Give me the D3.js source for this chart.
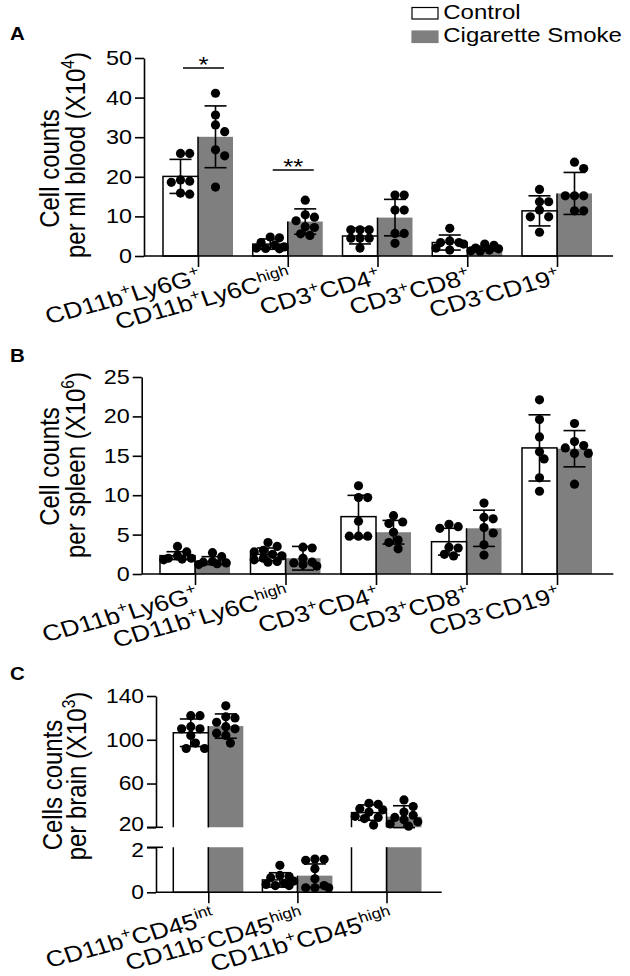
<!DOCTYPE html>
<html><head><meta charset="utf-8">
<script src="https://cdn.jsdelivr.net/npm/d3@7"></script>
<style>
body{margin:0;background:#fff}
svg{display:block}
text{font-family:"Liberation Sans",Arial,Helvetica,sans-serif;fill:#000}
</style>
</head><body>
<svg id="chart" width="630" height="976"></svg>
<script>
// ================= DATA =================
const seriesNames = ["Control", "Cigarette Smoke"];

// Panel A – blood
const catsA = ["CD11b^{+}Ly6G^{+}", "CD11b^{+}Ly6C^{high}", "CD3^{+}CD4^{+}", "CD3^{+}CD8^{+}", "CD3^{-}CD19^{+}"];
const ticksA = [0, 10, 20, 30, 40, 50];
const ctrlMeanA = [20.1, 3.0, 5.05, 3.4, 11.4];
const ctrlSdA = [4.3, 1.3, 2.0, 1.9, 3.8];
const csMeanA = [30.1, 8.7, 9.7, 1.9, 15.8];
const csSdA = [7.8, 3.2, 4.6, 0.6, 5.3];
const ctrlPtsA = [
  [25.9, 25.9, 19.2, 18.9, 18.6, 15.6, 15.9],
  [4.8, 4.6, 3.4, 2.8, 2.3, 2.0, 1.9, 1.8],
  [6.6, 6.6, 6.6, 4.5, 4.5, 4.5, 2.0],
  [7.0, 3.8, 3.4, 3.4, 3.0, 2.0, 1.5],
  [16.8, 13.7, 13.7, 11.6, 9.9, 9.9, 6.0]
];
const csPtsA = [
  [41.1, 35.6, 33.1, 31.4, 26.8, 25.3, 17.4],
  [14.1, 10.4, 9.8, 8.9, 7.4, 7.2, 5.6, 5.2],
  [15.4, 15.4, 11.6, 11.6, 5.7, 5.7, 3.2],
  [3.0, 2.7, 2.0, 1.8, 1.5, 1.3, 1.2],
  [23.7, 22.1, 15.2, 15.2, 15.2, 11.4, 11.4]
];
const sigA = [{cat: 0, label: "*", y: 47.5}, {cat: 1, label: "**", y: 21.7}];

// Panel B – spleen
const catsB = ["CD11b^{+}Ly6G^{+}", "CD11b^{+}Ly6C^{high}", "CD3^{+}CD4^{+}", "CD3^{+}CD8^{+}", "CD3^{-}CD19^{+}"];
const ticksB = [0, 5, 10, 15, 20, 25];
const ctrlMeanB = [2.33, 2.5, 7.28, 4.1, 16.0];
const ctrlSdB = [0.5, 0.8, 2.7, 1.7, 4.2];
const csMeanB = [1.7, 2.0, 5.3, 5.8, 15.9];
const csSdB = [0.5, 1.5, 1.5, 2.3, 2.3];
const ctrlPtsB = [
  [3.5, 2.8, 2.3, 2.0, 2.0, 1.8, 1.9],
  [4.0, 3.5, 3.0, 2.8, 2.5, 2.3, 2.0, 1.8, 1.5, 1.6],
  [11.2, 9.7, 9.7, 6.7, 4.8, 4.8, 4.8],
  [6.3, 6.0, 5.8, 3.4, 3.3, 2.3, 2.5],
  [22.1, 19.6, 17.4, 15.5, 14.6, 12.2, 10.5]
];
const csPtsB = [
  [2.7, 2.2, 1.6, 1.4, 1.3, 1.2, 1.5],
  [3.4, 3.3, 2.0, 1.5, 1.0, 1.4, 1.2],
  [7.4, 6.6, 6.4, 5.3, 4.3, 4.0, 3.2],
  [9.0, 7.2, 7.0, 5.9, 5.2, 3.7, 2.4],
  [19.1, 16.8, 16.3, 16.0, 15.3, 15.3, 11.4]
];

// Panel C – brain (broken axis)
const catsC = ["CD11b^{+}CD45^{int}", "CD11b^{-}CD45^{high}", "CD11b^{+}CD45^{high}"];
const ticksCUpper = [20, 60, 100, 140];
const ticksCLower = [0, 2];
const ctrlMeanC = [106.4, 0.55, 33.4];
const ctrlSdC = [12.6, 0.32, 7.0];
const csMeanC = [112.5, 0.74, 29.7];
const csSdC = [11.1, 0.52, 10.0];
const ctrlPtsC = [
  [122, 122, 112, 110, 110, 104, 97, 92, 92],
  [1.2, 0.75, 0.7, 0.65, 0.5, 0.4, 0.35, 0.3, 0.3],
  [42, 41, 37, 36, 34, 30, 29, 28, 22]
];
const csPtsC = [
  [131, 121, 120, 116, 112, 110, 106, 104, 97],
  [1.48, 1.47, 1.42, 1.05, 0.6, 0.3, 0.2, 0.2, 0.2],
  [45, 39, 34, 31, 29, 27, 25, 23, 21]
];

// ================= DRAWING =================
const SX = 1.17;           // horizontal stretch of the original figure's text
const GREY = "#7f7f7f";
const svg = d3.select("#chart");

function rich(textSel, str, fs) {
  const parts = [];
  const re = /\^\{([^}]*)\}/g;
  let last = 0, m;
  while ((m = re.exec(str))) {
    if (m.index > last) parts.push({t: str.slice(last, m.index), sup: false});
    parts.push({t: m[1], sup: true});
    last = re.lastIndex;
  }
  if (last < str.length) parts.push({t: str.slice(last), sup: false});
  const shift = fs * 0.4;
  let raised = false;
  parts.forEach(p => {
    const ts = textSel.append("tspan").text(p.t);
    if (p.sup) {
      ts.attr("font-size", fs * 0.65);
      if (!raised) { ts.attr("dy", -shift); raised = true; }
    } else if (raised) { ts.attr("dy", shift); raised = false; }
  });
}

// compact beeswarm limited to the bar width (overlap allowed when crowded)
function swarm(values, yFn, cx, r) {
  const pts = values.map(v => ({v, y: yFn(v)})).sort((a, b) => a.y - b.y);
  const placed = [];
  const cands = [0, r, -r, 2 * r, -2 * r, 3 * r, -3 * r];
  pts.forEach(p => {
    let best = null, bestD = -1;
    for (const dx of cands) {
      const d = placed.length ? d3.min(placed, q => Math.hypot(q.x - (cx + dx), q.y - p.y)) : 1e9;
      if (d >= 2 * r * 0.9) { best = dx; break; }
      if (d > bestD) { bestD = d; best = dx; }
    }
    p.x = cx + best;
    placed.push(p);
  });
  return placed;
}

let clipId = 0;
function drawPanel(cfg) {
  const g = svg.append("g");
  const n = cfg.cats.length;
  const xs = d3.scalePoint().domain(d3.range(n)).range(cfg.centers);
  const bw = 35, r = 4.6, capW = 11;

  const segs = cfg.segments.map(s => ({...s, scale: d3.scaleLinear().domain(s.domain).range(s.range)}));
  const yOf = v => {
    for (const s of segs) if (v >= s.domain[0] - (s.domain[0] > 0 ? 3 : 1e9)) return s.scale(v);
    return segs[segs.length - 1].scale(v);
  };

  // bars per segment
  segs.forEach(s => {
    const id = "clip" + (clipId++);
    g.append("clipPath").attr("id", id).append("rect")
      .attr("x", 0).attr("y", s.clipTop).attr("width", 630).attr("height", s.clipBottom - s.clipTop);
    const sg = g.append("g").attr("clip-path", `url(#${id})`);
    const [d0, d1] = s.domain;
    const bottom = d0 === 0 ? s.scale(0) : s.clipBottom + 6;
    for (let i = 0; i < n; i++) {
      const cx = xs(i);
      [[cfg.csMean[i], 1], [cfg.ctrlMean[i], 0]].forEach(([v, k]) => {
        if (v <= d0) return;
        const top = v > d1 ? s.clipTop - 6 : s.scale(v);
        if (k === 1) {
          sg.append("rect").attr("x", cx).attr("y", top).attr("width", bw).attr("height", bottom - top)
            .attr("fill", GREY);
          sg.append("line").attr("x1", cx).attr("x2", cx).attr("y1", top).attr("y2", bottom)
            .attr("stroke", "#000").attr("stroke-width", 1.5);
        } else {
          sg.append("rect").attr("x", cx - bw).attr("y", top).attr("width", bw).attr("height", bottom - top)
            .attr("fill", "#fff").attr("stroke", "#000").attr("stroke-width", 1.5);
        }
      });
    }
  });

  // error bars
  for (let i = 0; i < n; i++) {
    const cx = xs(i);
    [[cfg.ctrlMean[i], cfg.ctrlSd[i], cx - bw / 2], [cfg.csMean[i], cfg.csSd[i], cx + bw / 2]].forEach(([m, sd, bx]) => {
      const y1 = yOf(m + sd), y0 = yOf(Math.max(m - sd, 0));
      g.append("line").attr("x1", bx).attr("x2", bx).attr("y1", y1).attr("y2", y0).attr("stroke", "#000").attr("stroke-width", 1.6);
      [y1, y0].forEach(yy => g.append("line").attr("x1", bx - capW).attr("x2", bx + capW).attr("y1", yy).attr("y2", yy)
        .attr("stroke", "#000").attr("stroke-width", 1.6));
    });
  }

  // dots
  for (let i = 0; i < n; i++) {
    const cx = xs(i);
    [[cfg.ctrlPts[i], cx - bw / 2], [cfg.csPts[i], cx + bw / 2]].forEach(([vals, bx]) => {
      const placed = swarm(vals, yOf, bx, r);
      g.selectAll(null).data(placed).enter().append("circle")
        .attr("cx", d => d.x).attr("cy", d => d.y).attr("r", r).attr("fill", "#000");
    });
  }

  // y axes (one per segment)
  segs.forEach(s => {
    const ax = g.append("g").attr("transform", `translate(${cfg.axisX},0)`)
      .call(d3.axisLeft(s.scale).tickValues(s.ticks).tickFormat(d => String(d))
        .tickSize(9).tickSizeOuter(0).tickPadding(3));
    ax.select(".domain").attr("stroke", "#000").attr("stroke-width", 1.6);
    ax.selectAll(".tick line").attr("stroke", "#000").attr("stroke-width", 1.6);
    ax.selectAll(".tick text").attr("font-size", cfg.tickFs || 20).attr("fill", "#000")
      .attr("font-family", '"Liberation Sans",Arial,sans-serif')
      .attr("x", -12 / SX).attr("y", d => (s.labelShift && s.labelShift[d]) || 0)
      .attr("transform", `scale(${SX},1)`);
    if (s.breakAt !== undefined) {
      g.append("line").attr("x1", cfg.axisX - 9).attr("x2", cfg.axisX + 7)
        .attr("y1", s.scale(s.breakAt)).attr("y2", s.scale(s.breakAt)).attr("stroke", "#000").attr("stroke-width", 1.6);
    }
  });

  // x axis
  g.append("line").attr("x1", cfg.axisX).attr("x2", cfg.axisEnd).attr("y1", cfg.base).attr("y2", cfg.base)
    .attr("stroke", "#000").attr("stroke-width", 1.6);
  const xa = g.append("g").attr("transform", `translate(0,${cfg.base})`)
    .call(d3.axisBottom(xs).tickSize(11).tickFormat(""));
  xa.select(".domain").remove();
  xa.selectAll(".tick line").attr("stroke", "#000").attr("stroke-width", 1.6);

  // category labels
  cfg.cats.forEach((c, i) => {
    const t = g.append("text").attr("text-anchor", "end").attr("font-size", cfg.labelFs)
      .attr("transform", `translate(${xs(i) + cfg.labelOff[0]},${cfg.base + cfg.labelOff[1]}) scale(${SX},1) rotate(-17.4)`);
    rich(t, c, cfg.labelFs);
  });

  // y titles
  cfg.titles.forEach(tt => {
    const t = g.append("text").attr("text-anchor", "middle").attr("font-size", 24)
      .attr("transform", `translate(${tt.x},${tt.y}) scale(${SX},1) rotate(-90)`);
    rich(t, tt.text, 24);
  });

  // panel letter
  g.append("text").attr("font-size", 17.5).attr("font-weight", "bold")
    .attr("transform", `translate(10,${cfg.letterY}) scale(${SX},1)`).text(cfg.letter);

  // significance
  (cfg.sig || []).forEach(sg => {
    const cx = xs(sg.cat), yy = yOf(sg.y);
    g.append("line").attr("x1", cx - 15).attr("x2", cx + 26).attr("y1", yy).attr("y2", yy)
      .attr("stroke", "#000").attr("stroke-width", 1.5);
    g.append("text").attr("text-anchor", "middle").attr("font-size", 22)
      .attr("transform", `translate(${cx + 5.5},${yy + 4}) scale(${SX},1)`).text(sg.label);
  });
}

drawPanel({
  cats: catsA, ctrlMean: ctrlMeanA, ctrlSd: ctrlSdA, csMean: csMeanA, csSd: csSdA,
  ctrlPts: ctrlPtsA, csPts: csPtsA, sig: sigA,
  segments: [{domain: [0, 50], range: [256, 58], ticks: ticksA, clipTop: 0, clipBottom: 258}],
  axisX: 144, axisEnd: 613, base: 256, centers: [198, 557],
  labelOff: [5, 27], labelFs: 22.5,
  titles: [{text: "Cell counts", x: 59, y: 168.5}, {text: "per ml blood (X10^{4})", x: 85, y: 155}],
  letter: "A", letterY: 39.5
});

drawPanel({
  cats: catsB, ctrlMean: ctrlMeanB, ctrlSd: ctrlSdB, csMean: csMeanB, csSd: csSdB,
  ctrlPts: ctrlPtsB, csPts: csPtsB,
  segments: [{domain: [0, 25], range: [574, 377], ticks: ticksB, clipTop: 300, clipBottom: 576}],
  axisX: 141.7, axisEnd: 613.3, base: 574, centers: [195, 557],
  labelOff: [5, 27], labelFs: 22.5,
  titles: [{text: "Cell counts", x: 59, y: 466.5}, {text: "per spleen (X10^{6})", x: 85, y: 465}],
  letter: "B", letterY: 362
});

drawPanel({
  cats: catsC, ctrlMean: ctrlMeanC, ctrlSd: ctrlSdC, csMean: csMeanC, csSd: csSdC,
  ctrlPts: ctrlPtsC, csPts: csPtsC,
  segments: [
    {domain: [20, 140], range: [827.3, 696], ticks: ticksCUpper, clipTop: 620, clipBottom: 827.3, breakAt: 20,
     labelShift: {20: -3}},
    {domain: [0, 2], range: [892.3, 847.3], ticks: ticksCLower, clipTop: 847.3, clipBottom: 894, breakAt: 2,
     labelShift: {2: 3}}
  ],
  axisX: 156, axisEnd: 441.7, base: 892.3, centers: [208.3, 386.5],
  labelOff: [8, 31], labelFs: 22.5, tickFs: 19.5,
  titles: [{text: "Cells counts", x: 61.7, y: 785}, {text: "per brain (X10^{3})", x: 86, y: 776}],
  letter: "C", letterY: 680
});

// legend
const leg = svg.append("g");
const legItems = seriesNames.map((s, i) => ({name: s, fill: i === 0 ? "#fff" : GREY, stroke: i === 0 ? "#000" : GREY, y: i === 0 ? 7.5 : 31}));
leg.selectAll("rect").data(legItems).enter().append("rect")
  .attr("x", 412).attr("y", d => d.y).attr("width", 26).attr("height", 11.5)
  .attr("fill", d => d.fill).attr("stroke", d => d.stroke).attr("stroke-width", 1.2);
leg.selectAll("text").data(legItems).enter().append("text")
  .attr("font-size", 20.5)
  .attr("transform", d => `translate(443.3,${d.y + 11.3}) scale(${SX},1)`)
  .text(d => d.name);
</script>
</body></html>
